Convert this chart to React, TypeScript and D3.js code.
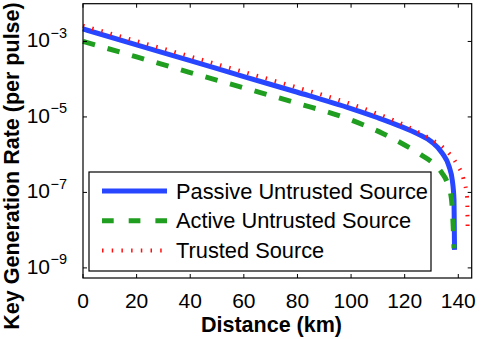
import React from 'react';
import { scaleLinear, scaleLog, line, curveMonotoneX } from 'd3';

const svgWidth = 491;
const svgHeight = 339;

const plotLeft = 83;
const plotRight = 471.7;
const plotTop = 3.7;
const plotBottom = 278;

const fontFamily = '"Liberation Sans", Arial, Helvetica, sans-serif';

// values
const distanceTicks = [0, 20, 40, 60, 80, 100, 120, 140];
const rateTickExponents = [-3, -5, -7, -9];

const passiveDistance = [0, 20, 40, 60, 80, 100, 110, 118, 125, 130, 134, 136.5, 137.8, 138.4, 138.6];
const passiveRate = [2.14e-3, 8.1e-4, 3.1e-4, 1.17e-4, 4.5e-5, 1.66e-5, 9.5e-6, 5.8e-6, 3.5e-6, 2.2e-6, 1.1e-6, 5.0e-7, 2.0e-7, 6.3e-8, 3.0e-9];

const activeDistance = [0, 20, 40, 60, 80, 100, 112, 120, 126, 130.8, 134, 135.8, 137.4, 138.1, 138.4];
const activeRate = [1.0e-3, 3.9e-4, 1.5e-4, 5.9e-5, 2.3e-5, 8.3e-6, 3.6e-6, 1.8e-6, 1.0e-6, 5.8e-7, 3.2e-7, 1.9e-7, 7.1e-8, 1.26e-8, 3.3e-9];

const trustedDistance = [0, 20, 40, 60, 80, 100, 110, 116.4, 123.3, 129.6, 135.1, 139.5, 142, 143.3, 143.5];
const trustedRate = [2.6e-3, 1.02e-3, 4.0e-4, 1.55e-4, 6.0e-5, 2.2e-5, 1.2e-5, 7.9e-6, 4.6e-6, 2.6e-6, 1.38e-6, 5.5e-7, 2.2e-7, 7.1e-8, 7.9e-9];

const seriesNames = ['Passive Untrusted Source', 'Active Untrusted Source', 'Trusted Source'];

const xScale = scaleLinear().domain([0, 145]).range([plotLeft, plotRight]);
const yScale = scaleLog().domain([5.4e-10, 1e-2]).range([plotBottom, plotTop]);

const styles = [
  { stroke: '#2846ff', strokeWidth: 5, dash: undefined },
  { stroke: '#1f9e1f', strokeWidth: 5, dash: '12.5 13' },
  { stroke: '#ff1010', strokeWidth: 4, dash: '1.5 8' },
];

function toPoints(xs: number[], ys: number[]) {
  return xs.map((x, i) => [x, ys[i]] as [number, number]);
}

export default function App() {
  const rateLine = line<[number, number]>()
    .x((d) => xScale(d[0]))
    .y((d) => yScale(d[1]))
    .curve(curveMonotoneX);

  const series = [
    toPoints(passiveDistance, passiveRate),
    toPoints(activeDistance, activeRate),
    toPoints(trustedDistance, trustedRate),
  ];

  const tickLen = 4;
  const legendX = 89;
  const legendY = 172;
  const legendW = 342;
  const legendH = 99;

  return (
    <svg
      width={svgWidth}
      height={svgHeight}
      style={{ position: 'absolute', left: 0, top: 0, background: '#fff' }}
      fontFamily={fontFamily}
    >
      <rect width={svgWidth} height={svgHeight} fill="#fff" />

      {/* curves */}
      {series.map((pts, i) => (
        <path
          key={i}
          d={rateLine(pts) || ''}
          fill="none"
          stroke={styles[i].stroke}
          strokeWidth={styles[i].strokeWidth}
          strokeDasharray={styles[i].dash}
        />
      ))}

      {/* axes box */}
      <rect
        x={plotLeft}
        y={plotTop}
        width={plotRight - plotLeft}
        height={plotBottom - plotTop}
        fill="none"
        stroke="#000"
        strokeWidth={1.2}
      />

      {distanceTicks.map((t) => (
        <g key={'x' + t}>
          <line x1={xScale(t)} x2={xScale(t)} y1={plotBottom} y2={plotBottom - tickLen} stroke="#000" />
          <line x1={xScale(t)} x2={xScale(t)} y1={plotTop} y2={plotTop + tickLen} stroke="#000" />
          <text x={xScale(t)} y={307.5} textAnchor="middle" fontSize={21}>
            {t}
          </text>
        </g>
      ))}

      {rateTickExponents.map((e) => {
        const y = yScale(Math.pow(10, e));
        return (
          <g key={'y' + e}>
            <line x1={plotLeft} x2={plotLeft + tickLen} y1={y} y2={y} stroke="#000" />
            <line x1={plotRight} x2={plotRight - tickLen} y1={y} y2={y} stroke="#000" />
            <text x={50} y={y + 6} textAnchor="end" fontSize={21}>
              10
            </text>
            <text x={50.5} y={y - 3.5} textAnchor="start" fontSize={14.5}>
              {'\u2212' + Math.abs(e)}
            </text>
          </g>
        );
      })}

      {/* axis labels */}
      <text x={271.5} y={331.5} textAnchor="middle" fontSize={21.5} fontWeight="bold">
        Distance (km)
      </text>
      <text
        transform="translate(19, 166) rotate(-90)"
        textAnchor="middle"
        fontSize={21.5}
        fontWeight="bold"
      >
        Key Generation Rate (per pulse)
      </text>

      {/* legend */}
      <rect x={legendX} y={legendY} width={legendW} height={legendH} fill="#fff" stroke="#000" strokeWidth={1.2} />
      {seriesNames.map((name, i) => {
        const rowY = 191 + i * 29.8;
        return (
          <g key={name}>
            <line
              x1={102}
              x2={167}
              y1={rowY}
              y2={rowY}
              stroke={styles[i].stroke}
              strokeWidth={styles[i].strokeWidth}
              strokeDasharray={i === 1 ? '11.7 15' : i === 2 ? '1.5 8.2' : undefined}
            />
            <text x={176} y={rowY + 7.6} fontSize={21.8}>
              {name}
            </text>
          </g>
        );
      })}
    </svg>
  );
}
